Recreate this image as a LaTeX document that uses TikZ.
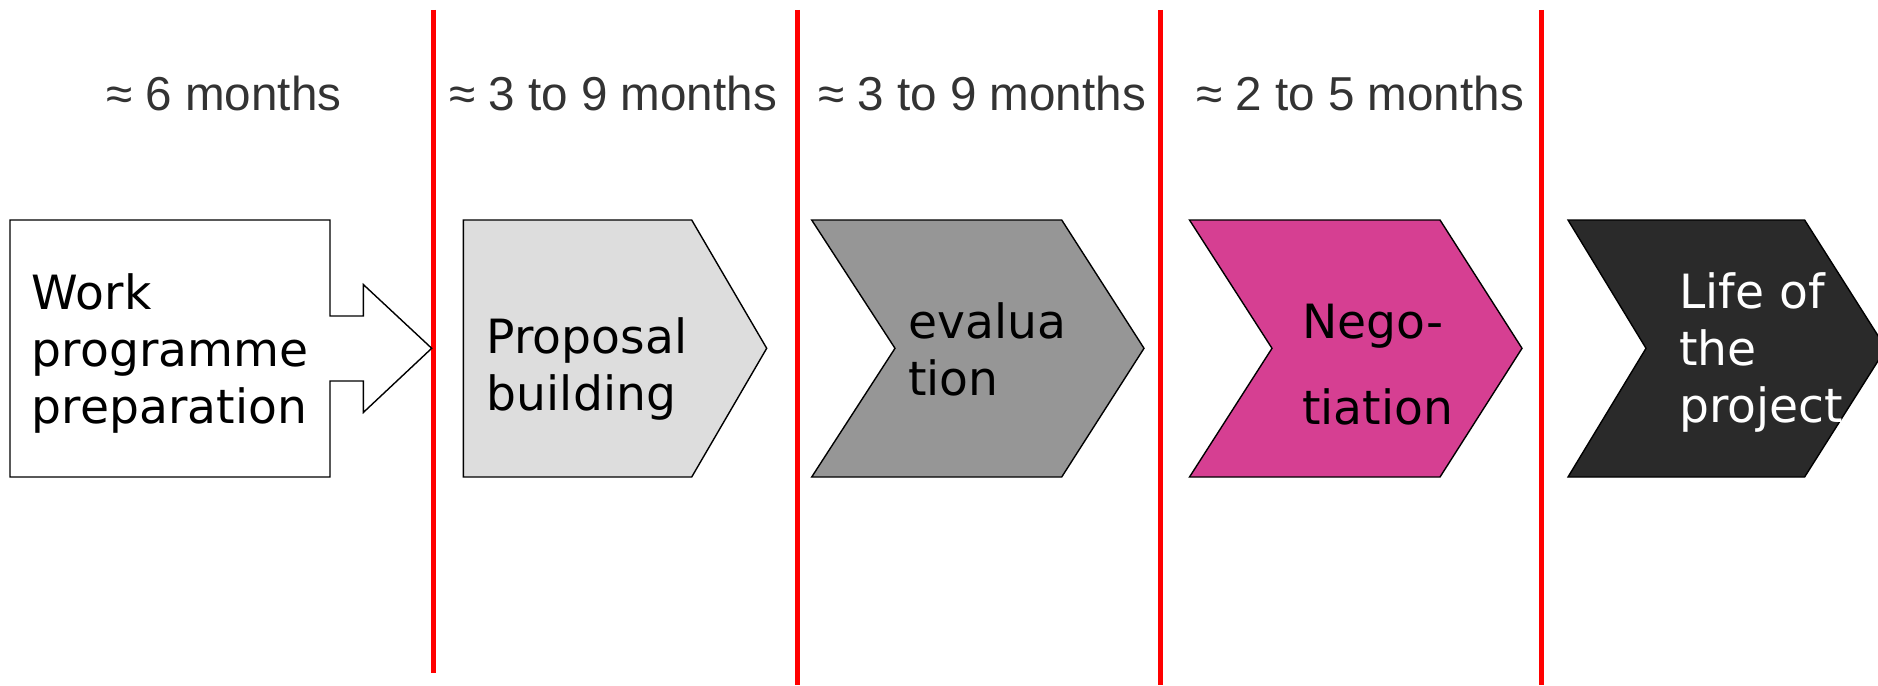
\documentclass[tikz,border=0pt]{standalone}
\usepackage{fontspec}
\setmainfont{DejaVu Sans}
\newfontfamily\labelfont{Liberation Sans}
\definecolor{labgray}{HTML}{333333}
\definecolor{propfill}{HTML}{DDDDDD}
\definecolor{evalfill}{HTML}{969696}
\definecolor{negofill}{HTML}{D63F92}
\definecolor{lifefill}{HTML}{2A2A2A}
\definecolor{sepred}{HTML}{FF0000}
\begin{document}
\begin{tikzpicture}[x=1pt,y=-1pt,
  shapeline/.style={draw=black,line width=1.4pt,line join=miter},
  sepline/.style={draw=sepred,line width=5pt},
  durlabel/.style={font=\labelfont\fontsize{47.6}{57}\selectfont,text=labgray,inner sep=0pt,anchor=base west},
  boxtext/.style={font=\fontsize{47.2}{57}\selectfont,inner sep=0pt,anchor=base west,align=left}]
\useasboundingbox (0,0) rectangle (1878,685);
% separator lines
\coordinate (s1t) at (433.6,10); \coordinate (s1b) at (433.6,673);
\coordinate (s2t) at (797,10);   \coordinate (s2b) at (797,685);
\coordinate (s3t) at (1160,10);  \coordinate (s3b) at (1160,685);
\coordinate (s4t) at (1541.6,10);\coordinate (s4b) at (1541.6,685);
\draw[sepline] (s1t) -- (s1b);
\draw[sepline] (s2t) -- (s2b);
\draw[sepline] (s3t) -- (s3b);
\draw[sepline] (s4t) -- (s4b);
% duration labels
\node[durlabel] (d1) at (106,110) {≈ 6 months};
\node[durlabel] (d2) at (449,110) {≈ 3 to 9 months};
\node[durlabel] (d3) at (818,110) {≈ 3 to 9 months};
\node[durlabel] (d4) at (1196,110) {≈ 2 to 5 months};
% shape 1: notched arrow
\path[shapeline,fill=white] (10,220) -- (330,220) -- (330,316) -- (363.3,316) -- (363.3,284.5)
  -- (431.7,348.3) -- (363.3,412.5) -- (363.3,381) -- (330,381) -- (330,477) -- (10,477) -- cycle;
% shape 2: pentagon
\path[shapeline,fill=propfill] (463.3,220) -- (691.7,220) -- (766.7,348.3) -- (691.7,477) -- (463.3,477) -- cycle;
% shape 3: chevron
\path[shapeline,fill=evalfill] (811.7,220) -- (1061.7,220) -- (1144,348.3) -- (1061.7,477) -- (811.7,477) -- (895,348.3) -- cycle;
% shape 4: chevron
\path[shapeline,fill=negofill] (1189.5,220) -- (1440,220) -- (1522,348.3) -- (1440,477) -- (1189.5,477) -- (1272,348.3) -- cycle;
% shape 5: chevron (cut at edge)
\path[shapeline,fill=lifefill] (1568,220) -- (1804.6,220) -- (1886,348.3) -- (1804.6,477) -- (1568,477) -- (1646,348.3) -- cycle;
% texts (anchored at the baseline of their last line)
\node[boxtext] (t1) at (31.7,423) {Work\\programme\\preparation};
\node[boxtext] (t2) at (486.7,410) {Proposal\\building};
\node[boxtext] (t3) at (908,395) {evalua\\tion};
\node[boxtext,font=\fontsize{47.2}{86}\selectfont] (t4) at (1302,424) {Nego-\\tiation};
\node[boxtext,text=white] (t5) at (1679,422) {Life of\\the\\project};
\end{tikzpicture}
\end{document}
